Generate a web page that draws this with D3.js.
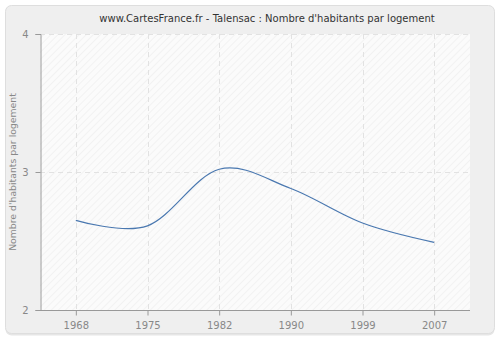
<!DOCTYPE html>
<html>
<head>
<meta charset="utf-8">
<script src="https://cdn.jsdelivr.net/npm/d3@7"></script>
<style>
  html, body { margin: 0; padding: 0; background: #fff; }
  svg { display: block; font-family: "DejaVu Sans", Verdana, sans-serif; }
</style>
</head>
<body>
<svg id="chart" width="500" height="340"></svg>
<script>
// Census years and average number of residents per dwelling
const years = ["1968", "1975", "1982", "1990", "1999", "2007"];
const values = [2.65, 2.61, 3.02, 2.88, 2.63, 2.49];
const yTicks = [2, 3, 4];
const title = "www.CartesFrance.fr - Talensac : Nombre d'habitants par logement";
const yLabel = "Nombre d'habitants par logement";

const svg = d3.select("#chart");
const W = 500, H = 340;
const plot = { left: 40, right: 470, top: 34, bottom: 310 };

// Outer panel
svg.append("rect")
  .attr("x", 5.5).attr("y", 6.5)
  .attr("width", W - 11).attr("height", H - 11)
  .attr("rx", 6)
  .attr("fill", "#e6e6e6")
  .attr("stroke", "none");
svg.append("rect")
  .attr("x", 5.5).attr("y", 5.5)
  .attr("width", W - 11).attr("height", H - 12)
  .attr("rx", 6)
  .attr("fill", "#efefef")
  .attr("stroke", "#dedede");

// Diagonal hatch for the plot background
const defs = svg.append("defs");
const pat = defs.append("pattern")
  .attr("id", "hatch")
  .attr("patternUnits", "userSpaceOnUse")
  .attr("width", 5).attr("height", 5)
  .attr("patternTransform", "rotate(45)");
pat.append("rect").attr("width", 5).attr("height", 5).attr("fill", "#fbfbfb");
pat.append("line").attr("x1", 0).attr("y1", 0).attr("x2", 0).attr("y2", 5)
  .attr("stroke", "#efefef").attr("stroke-width", 1.5);

const x = d3.scalePoint()
  .domain(years)
  .range([plot.left, plot.right])
  .padding(0.5);

const y = d3.scaleLinear()
  .domain([2, 4])
  .range([plot.bottom, plot.top]);

svg.append("rect")
  .attr("x", plot.left).attr("y", plot.top)
  .attr("width", plot.right - plot.left)
  .attr("height", plot.bottom - plot.top)
  .attr("fill", "url(#hatch)");

// Dashed grid
const grid = svg.append("g")
  .attr("stroke", "#e2e2e2")
  .attr("stroke-dasharray", "5,4")
  .attr("fill", "none");
grid.selectAll("line.v").data(years).join("line")
  .attr("class", "v")
  .attr("x1", d => Math.round(x(d)) + 0.5).attr("x2", d => Math.round(x(d)) + 0.5)
  .attr("y1", plot.top).attr("y2", plot.bottom);
grid.selectAll("line.h").data(yTicks.filter(t => t > 2)).join("line")
  .attr("class", "h")
  .attr("x1", plot.left).attr("x2", plot.right)
  .attr("y1", d => Math.round(y(d)) + 0.5).attr("y2", d => Math.round(y(d)) + 0.5);

// Axes
const xAxis = svg.append("g")
  .attr("transform", `translate(0,${plot.bottom + 0.5})`)
  .call(d3.axisBottom(x).tickSizeOuter(0).tickSize(5).tickPadding(6));
const yAxis = svg.append("g")
  .attr("transform", `translate(${plot.left + 0.5},0)`)
  .call(d3.axisLeft(y).tickValues(yTicks).tickFormat(d3.format("d")).tickSizeOuter(0).tickSize(5).tickPadding(7));

[xAxis, yAxis].forEach(g => {
  g.select(".domain").attr("stroke", "#999");
  g.selectAll(".tick line").attr("stroke", "#999");
  g.selectAll(".tick text")
    .attr("fill", "#888")
    .attr("font-size", 10)
    .attr("font-family", "DejaVu Sans, Verdana, sans-serif");
});
xAxis.select(".domain").attr("d", `M${plot.left},0H${plot.right}`);

// Line
svg.append("path")
  .datum(values)
  .attr("fill", "none")
  .attr("stroke", "#4a78b0")
  .attr("stroke-width", 1.2)
  .attr("d", d3.line()
    .x((d, i) => x(years[i]))
    .y(d => y(d))
    .curve(d3.curveCardinal.tension(0)));

// Title
svg.append("text")
  .attr("x", 267).attr("y", 22)
  .attr("text-anchor", "middle")
  .attr("fill", "#333")
  .attr("font-size", 10)
  .text(title);

// Y axis label
svg.append("text")
  .attr("transform", `translate(16,${(plot.top + plot.bottom) / 2}) rotate(-90)`)
  .attr("text-anchor", "middle")
  .attr("fill", "#888")
  .attr("font-size", 9.3)
  .text(yLabel);
</script>
</body>
</html>
